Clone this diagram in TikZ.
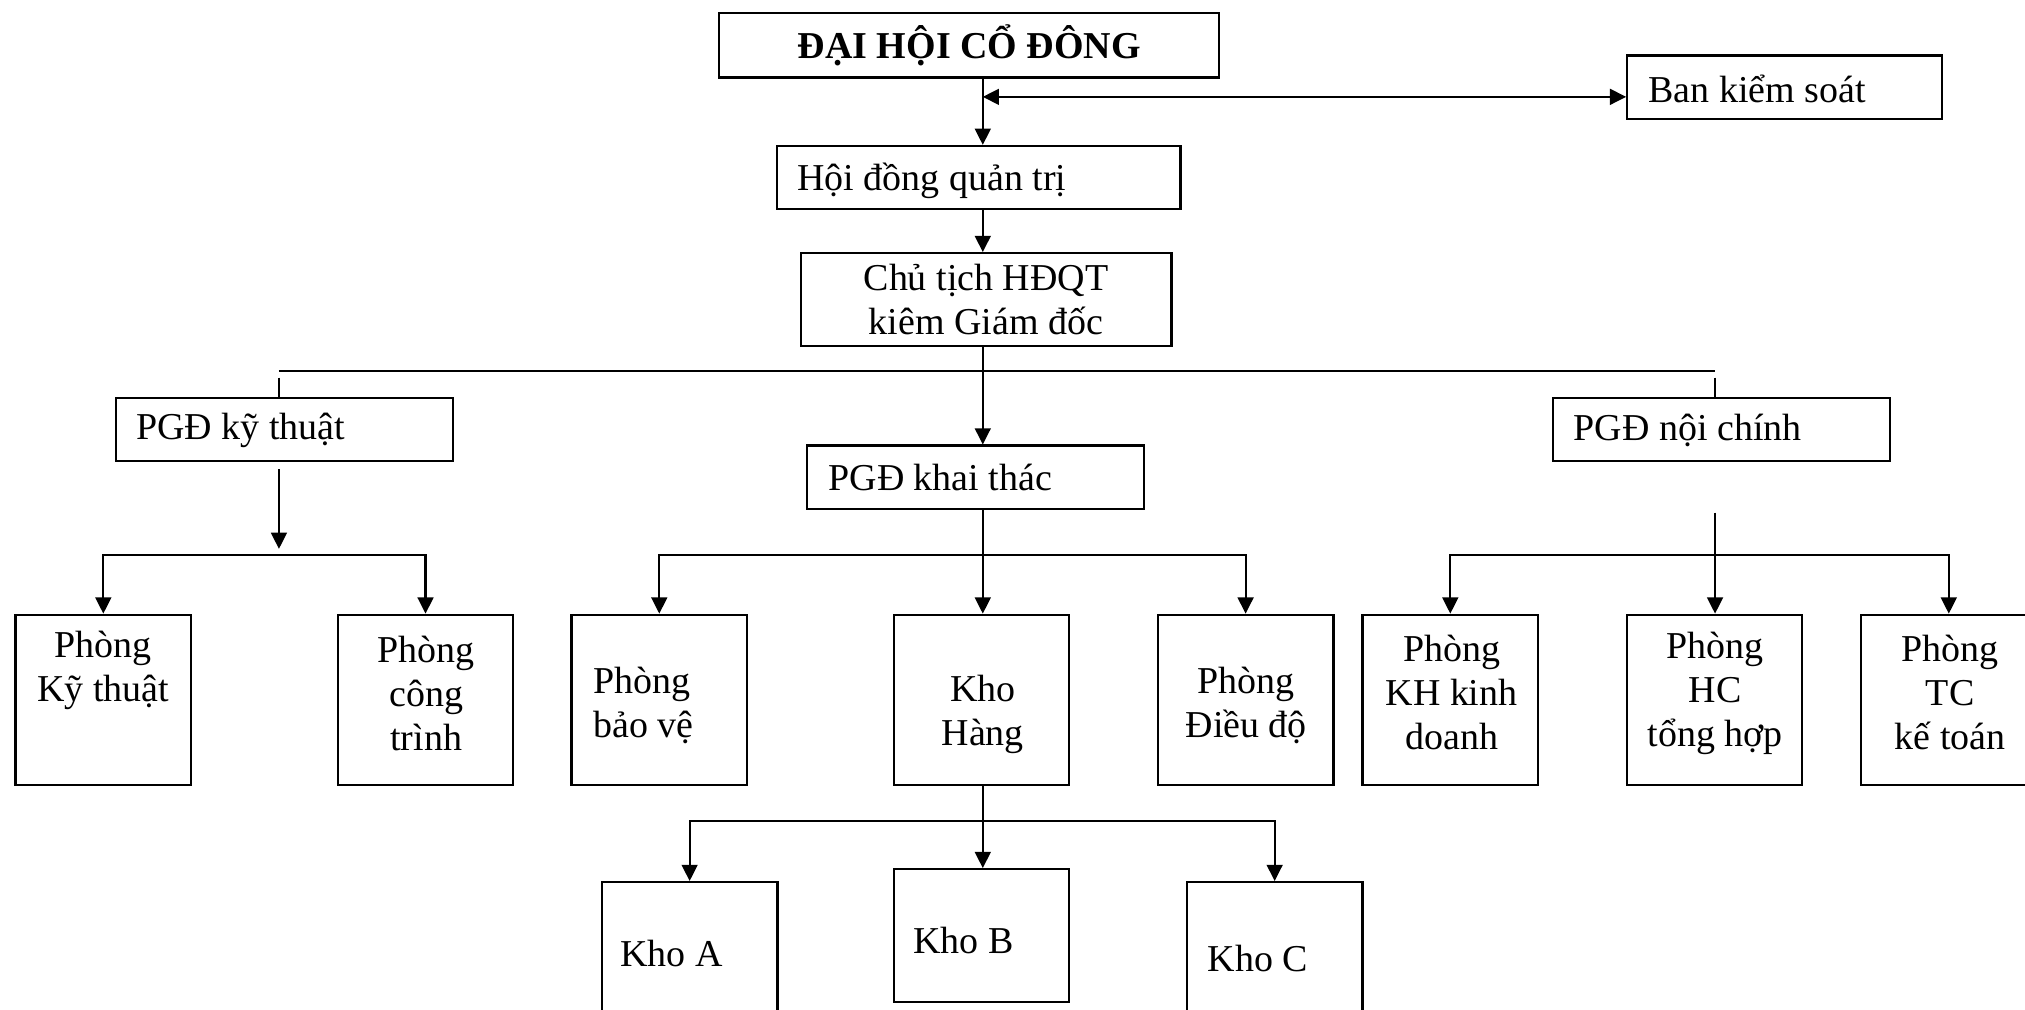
\documentclass[tikz,border=0pt]{standalone}
\usepackage{fontspec}
\setmainfont{Liberation Serif}
\usetikzlibrary{arrows.meta,calc}

\begin{document}
\begin{tikzpicture}[x=0.012915cm, y=-0.012915cm,
  box/.style={rectangle, draw, line width=0.6pt, inner sep=0pt, align=center,
    font=\fontsize{10.8}{12.5}\selectfont},
  pgd/.style={box, minimum width=3.371cm, minimum height=0.633cm},
  room/.style={box, minimum width=1.756cm, minimum height=1.705cm},
  kho/.style={box, minimum width=1.756cm, minimum height=1.330cm},
  lbl/.style={inner sep=0pt, align=center, font=\fontsize{10.8}{12.5}\selectfont},
  arr/.style={-{Triangle[length=4.6pt, width=4.5pt]}, line width=0.6pt},
  dbl/.style={{Triangle[length=4.6pt, width=4.5pt]}-{Triangle[length=4.6pt, width=4.5pt]}, line width=0.6pt},
  ln/.style={line width=0.6pt}
]
\useasboundingbox (0,0) rectangle (1568,782);

% Top
\node[box, minimum width=5cm, minimum height=0.646cm,
  font=\fontsize{10.8}{12.5}\selectfont\bfseries] (dhcd) at (750.5,35) {ĐẠI HỘI CỔ ĐÔNG};
\node[box, minimum width=3.151cm, minimum height=0.633cm] (bks) at (1382,67.5) {};
\node[lbl, anchor=west] (bksT) at (1276,69) {Ban kiểm soát};
\node[box, minimum width=4.029cm, minimum height=0.633cm] (hdqt) at (758,137.5) {};
\node[lbl, anchor=west] (hdqtT) at (617,140) {Hội đồng quản trị};
\node[box, minimum width=3.707cm, minimum height=0.930cm] (ct) at (763.5,232) {Chủ tịch HĐQT\\kiêm Giám đốc};

% PGD
\node[pgd] (pkt) at (220.5,332.5) {};
\node[lbl, anchor=west] (pktT) at (105,333) {PGĐ kỹ thuật};
\node[pgd] (pkh) at (755.5,369.5) {};
\node[lbl, anchor=west] (pkhT) at (641,370) {PGĐ khai thác};
\node[pgd] (pnc) at (1333,332.5) {};
\node[lbl, anchor=west] (pncT) at (1218,333) {PGĐ nội chính};

% Phong
\node[room] (p1) at (80,542) {};
\node[lbl] (p1T) at (80,519) {Phòng\\Kỹ thuật};
\node[room] (p2) at (329.5,542) {};
\node[lbl] (p2T) at (330,537) {Phòng\\công\\trình};
\node[room] (p3) at (510.5,542) {};
\node[lbl, align=left, anchor=west] (p3T) at (459,546) {Phòng\\bảo vệ};
\node[room] (p4) at (760,542) {};
\node[lbl] (p4T) at (761,553) {Kho\\Hàng};
\node[room] (p5) at (964.5,542) {};
\node[lbl] (p5T) at (965,546) {Phòng\\Điều độ};
\node[room] (p6) at (1123,542) {};
\node[lbl] (p6T) at (1124,536) {Phòng\\KH kinh\\doanh};
\node[room] (p7) at (1327.5,542) {};
\node[lbl] (p7T) at (1328,537) {Phòng\\HC\\tổng hợp};
\node[room] (p8) at (1509,542) {};
\node[lbl] (p8T) at (1510,536) {Phòng\\TC\\kế toán};

% Kho
\node[kho] (khoA) at (534,734.5) {};
\node[lbl] (khoAT) at (520,738) {Kho A};
\node[kho] (khoB) at (760,724.5) {};
\node[lbl] (khoBT) at (746,728) {Kho B};
\node[kho] (khoC) at (987,734.5) {};
\node[lbl] (khoCT) at (974,742) {Kho C};

% Edges
\coordinate (sp) at (761,0);
\coordinate (j0) at (761,75);
\draw[dbl] (j0) -- (j0 -| bks.west);
\draw[arr] (dhcd.south -| sp) -- (hdqt.north -| sp);
\draw[arr] (hdqt.south -| sp) -- (ct.north -| sp);
\draw[arr] (ct.south -| sp) -- (pkh.north -| sp);

\coordinate (bl) at (216,287);
\coordinate (br) at (1328,287);
\draw[ln] (bl) -- (br);
\draw[ln] ([yshift=-2pt]bl) -- (bl |- pkt.north);
\draw[ln] ([yshift=-2pt]br) -- (br |- pnc.north);

\coordinate (kt0) at (216,425);
\coordinate (kt) at (216,430);
\draw[arr] ([yshift=-2pt]pkt.south -| kt) -- (kt0);
\draw[arr] (kt) -| (p1.north);
\draw[arr] (kt) -| (p2.north);

\coordinate (kh) at (761,430);
\draw[arr] (pkh.south -| sp) -- (p4.north -| sp);
\draw[arr] (kh) -| (p3.north);
\draw[arr] (kh) -| (p5.north);

\coordinate (nc0) at (1328,397);
\coordinate (nc) at (1328,430);
\draw[arr] (nc0) -- (p7.north -| nc);
\draw[arr] (nc) -| (p6.north);
\draw[arr] (nc) -| (p8.north);

\coordinate (kk) at (761,636);
\draw[arr] (p4.south -| sp) -- (khoB.north -| sp);
\draw[arr] (kk) -| (khoA.north);
\draw[arr] (kk) -| (khoC.north);

\end{tikzpicture}
\end{document}
